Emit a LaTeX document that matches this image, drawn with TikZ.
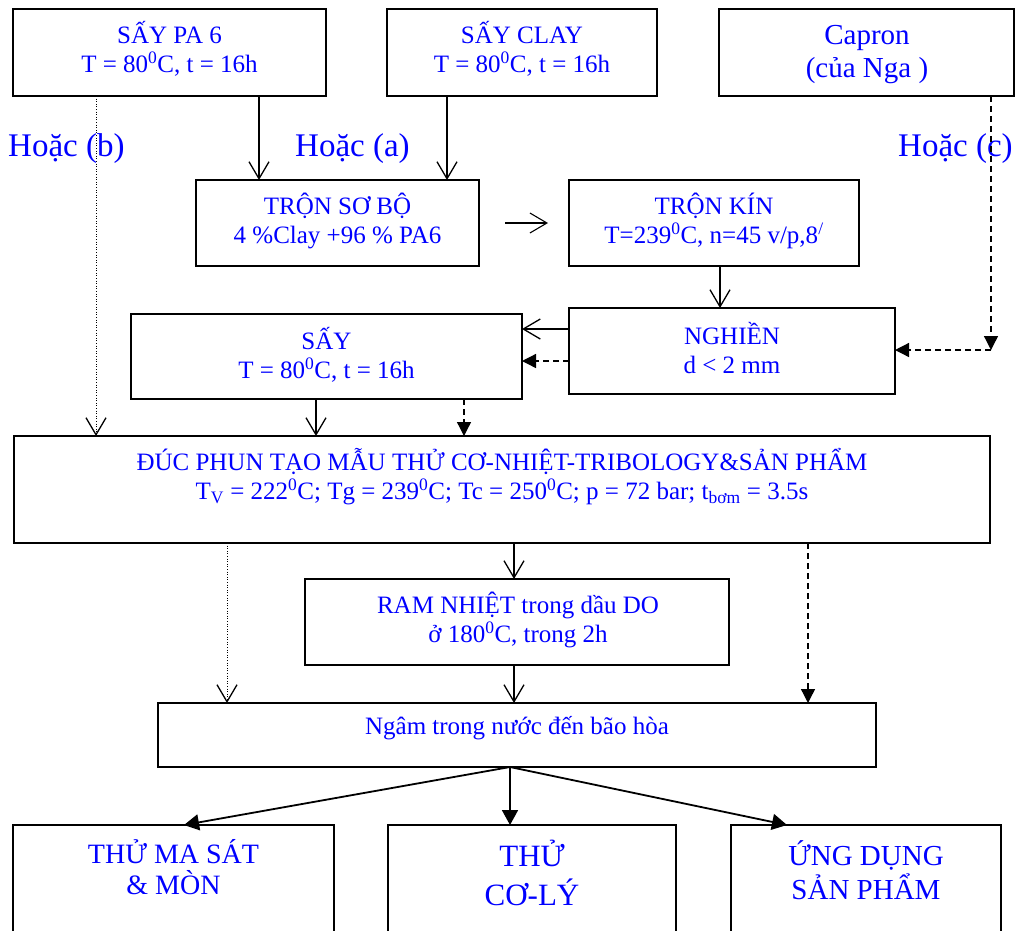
\documentclass[tikz,border=0pt]{standalone}
\usepackage{fontspec}
\setmainfont{Liberation Serif}
\usetikzlibrary{arrows.meta,fit}
\begin{document}
\begin{tikzpicture}[x=1pt,y=-1pt,
  box/.style={draw=black, line width=1.4pt, inner sep=0pt, outer sep=0pt},
  txt/.style={text=blue, align=center, inner sep=0pt, font=\fontsize{25}{29}\selectfont},
  hoac/.style={text=blue, inner sep=0pt, anchor=base west, font=\fontsize{33}{36}\selectfont},
  openarr/.style={line width=1.3pt, -{Straight Barb[length=17pt,width=20pt]}},
  fillarr/.style={line width=1.3pt, dash pattern=on 6pt off 4pt, -{Triangle[length=14pt,width=14pt]}},
  dotarr/.style={line width=1pt, dash pattern=on 1pt off 1.6pt, -{Straight Barb[length=17pt,width=20pt,line width=1.3pt]}},
  outarr/.style={line width=1.8pt, -{Triangle[length=15pt,width=16pt]}}]
\useasboundingbox (0,0) rectangle (1016,930);
% boxes
\node[box, fit={(13,9) (326,96)}] (pa6) {};
\node[box, fit={(387,9) (657,96)}] (clay) {};
\node[box, fit={(719,9) (1014,96)}] (capron) {};
\node[box, fit={(196,180) (479,266)}] (sobo) {};
\node[box, fit={(569,180) (859,266)}] (kin) {};
\node[box, fit={(569,308) (895,394)}] (nghien) {};
\node[box, fit={(131,314) (522,399)}] (say) {};
\node[box, fit={(14,436) (990,543)}] (duc) {};
\node[box, fit={(305,579) (729,665)}] (ram) {};
\node[box, fit={(158,703) (876,767)}] (ngam) {};
\node[box, fit={(13,825) (334,960)}] (ma) {};
\node[box, fit={(388,825) (676,960)}] (co) {};
\node[box, fit={(731,825) (1001,960)}] (ung) {};
% texts
\node[txt] (tpa6) at (169.5,49) {SẤY PA 6\\T = 80\textsuperscript{0}C, t = 16h};
\node[txt] (tclay) at (522,49) {SẤY CLAY\\T = 80\textsuperscript{0}C, t = 16h};
\node[txt, font=\fontsize{29}{33}\selectfont] (tcap) at (867,55) {Capron\\(của Nga )};
\node[hoac] (hb) at (8,156) {Hoặc (b)};
\node[hoac] (ha) at (295,156) {Hoặc (a)};
\node[hoac] (hc) at (898,156) {Hoặc (c)};
\node[txt] (tsobo) at (337.5,221) {TRỘN SƠ BỘ\\4 \%Clay +96 \% PA6};
\node[txt] (tkin) at (714,221) {TRỘN KÍN\\T=239\textsuperscript{0}C, n=45 v/p,8\textsuperscript{/}};
\node[txt] (tngh) at (732,348) {NGHIỀN\\d < 2 mm};
\node[txt] (tsay) at (326.5,354.5) {SẤY\\T = 80\textsuperscript{0}C, t = 16h};
\node[txt] (tduc) at (502,477) {ĐÚC PHUN TẠO MẪU THỬ CƠ-NHIỆT-TRIBOLOGY\&SẢN PHẨM\\T\textsubscript{V} = 222\textsuperscript{0}C; Tg = 239\textsuperscript{0}C; Tc = 250\textsuperscript{0}C; p = 72 bar; t\textsubscript{bơm} = 3.5s};
\node[txt] (tram) at (518,619.5) {RAM NHIỆT trong dầu DO\\ở 180\textsuperscript{0}C, trong 2h};
\node[txt] (tngam) at (517,728) {Ngâm trong nước đến bão hòa};
\node[txt, font=\fontsize{28}{31}\selectfont] (tma) at (173.5,867.5) {THỬ MA SÁT\\\& MÒN};
\node[txt, font=\fontsize{31}{39}\selectfont] (tco) at (532,872.5) {THỬ\\CƠ-LÝ};
\node[txt, font=\fontsize{29}{34}\selectfont] (tung) at (866,870) {ỨNG DỤNG\\SẢN PHẨM};
% helper coordinates
\coordinate (xa) at (259,0);
\coordinate (xb) at (447,0);
\coordinate (xd) at (720,0);
\coordinate (xc) at (991,0);
\coordinate (corner) at (991,350);
\coordinate (ye1) at (0,329);
\coordinate (ye2) at (0,361);
\coordinate (xh) at (96,0);
\coordinate (xi) at (316,0);
\coordinate (xj) at (464,0);
\coordinate (xk) at (514,0);
\coordinate (xl) at (227,0);
\coordinate (xm) at (808,0);
\coordinate (xo) at (510,0);
\coordinate (xt1) at (184,0);
\coordinate (xt3) at (787,0);
% connectors
\draw[openarr] (pa6.south -| xa) -- (sobo.north -| xa);
\draw[openarr] (clay.south -| xb) -- (sobo.north -| xb);
\draw[openarr, line width=1.1pt] ([xshift=26pt]sobo.east) -- ([xshift=-21pt]kin.west);
\draw[openarr] (kin.south -| xd) -- (nghien.north -| xd);
\draw[openarr] (nghien.west |- ye1) -- (say.east |- ye1);
\draw[fillarr] (nghien.west |- ye2) -- (say.east |- ye2);
\draw[fillarr] (capron.south -| xc) -- (corner);
\draw[fillarr] (corner) -- (nghien.east |- corner);
\draw[dotarr] (pa6.south -| xh) -- (duc.north -| xh);
\draw[openarr] (say.south -| xi) -- (duc.north -| xi);
\draw[fillarr] (say.south -| xj) -- (duc.north -| xj);
\draw[openarr] (duc.south -| xk) -- (ram.north -| xk);
\draw[openarr] (ram.south -| xk) -- (ngam.north -| xk);
\draw[dotarr] (duc.south -| xl) -- (ngam.north -| xl);
\draw[fillarr] (duc.south -| xm) -- (ngam.north -| xm);
\draw[outarr] (ngam.south -| xo) -- (ma.north -| xt1);
\draw[outarr] (ngam.south -| xo) -- (co.north -| xo);
\draw[outarr] (ngam.south -| xo) -- (ung.north -| xt3);
\end{tikzpicture}
\end{document}
